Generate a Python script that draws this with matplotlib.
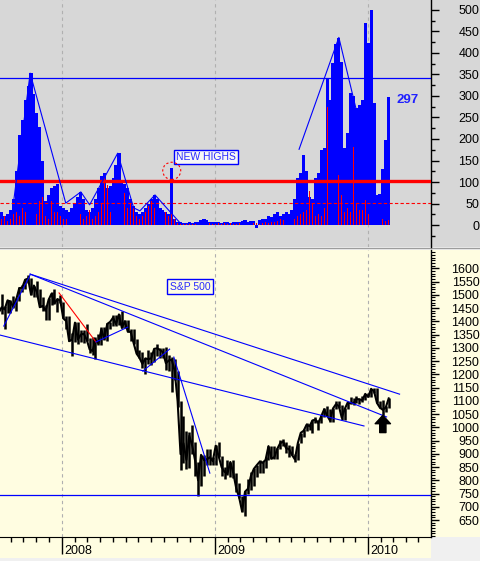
import matplotlib
matplotlib.use("Agg")
import matplotlib.pyplot as plt
import matplotlib.dates as mdates
from matplotlib.patches import Rectangle, Ellipse
from matplotlib.lines import Line2D
from matplotlib.ticker import FixedLocator, MultipleLocator
import pandas as pd

plt.rcParams["font.family"] = ["Liberation Sans", "DejaVu Sans"]

# ---- data (weekly, week ending Friday) ----
WEEKS = pd.date_range("2007-08-03", "2010-02-19", freq="W-FRI")

NH_BLUE = [
    128, 30, 20, 25, 35, 60, 125, 210, 245, 290, 322, 353, 305, 260, 228, 150, 55, 70, 85, 90, 95, 45,
    40, 35, 30, 40, 50, 65, 77, 60, 35, 30, 40, 60, 85, 115, 121, 85, 90, 110, 140, 167,
    100, 95, 85, 60, 45, 30, 25, 30, 40, 50, 60, 70, 60, 40, 35, 30, 25, 132, 15, 8,
    6, 5, 5, 6, 5, 6, 8, 12, 15, 12, 8, 6,
    6, 7, 5, 8, 6, 5, 7, 6, 8, 10, 12, 8, 10, 9, -7, 12, 14, 15, 20, 18, 25, 30, 20, 25, 30, 25,
    35, 60, 110, 120, 163, 125, 65, 60, 110, 120, 175, 180, 341, 290, 376, 420, 434, 380, 180, 213,
    306, 300, 271, 280, 290, 469,
    422, 500, 283, 70, 73, 130, 198, 297,
]
NH_RED = [
    75, 15, 20, 10, 15, 25, 30, 20, 40, 30, 25, 116, 40, 25, 55, 65, 20, 15, 55, 30, 30, 20,
    15, 15, 20, 10, 40, 20, 25, 15, 20, 35, 15, 20, 30, 50, 109, 93, 30, 65, 20, 15,
    30, 75, 40, 50, 42, 20, 15, 20, 30, 45, 55, 40, 30, 50, 45, 30, 20, 25, 15, 5,
    3, 3, 3, 3, 3, 3, 4, 5, 6, 5, 4, 3,
    3, 4, 3, 5, 3, 4, 3, 3, 4, 5, 3, 4, 8, 5, 4, 3, 5, 6, 4, 8, 6, 10, 15, 12, 25, 20,
    10, 15, 20, 25, 30, 35, 80, 50, 20, 25, 20, 40, 275, 40, 30, 60, 116, 70, 30, 40,
    30, 182, 50, 35, 35, 58,
    25, 30, 20, 57, 20, 15, 10, 12,
]

SP_HIGH = [
    1488, 1503, 1456, 1480, 1481, 1496, 1488, 1530, 1538, 1561, 1576, 1563, 1535, 1552, 1520, 1492,
    1460, 1488, 1510, 1523, 1485, 1498,
    1471, 1420, 1420, 1355, 1396, 1396, 1368, 1367, 1388, 1336, 1339, 1341, 1353, 1380, 1380, 1395,
    1398, 1422, 1422, 1426, 1440, 1406, 1404, 1370, 1370, 1333, 1290, 1285, 1263, 1292, 1284, 1297,
    1314, 1300, 1300, 1304, 1274, 1265, 1256, 1214, 1100, 1044, 985, 984, 1007, 943, 868, 896,
    896, 919, 918, 888,
    934, 943, 890, 851, 877, 870, 876, 827, 790, 741, 758, 804, 832, 845, 857, 875, 871, 888, 930,
    930, 930, 920, 951, 956, 946, 935, 931, 898, 942, 979, 993, 1018, 1013, 1027, 1040, 1029, 1048,
    1074, 1080, 1069, 1071, 1101, 1101, 1085, 1072, 1097, 1113, 1112, 1119, 1108, 1117, 1126,
    1128, 1145, 1150, 1150, 1100, 1104, 1080, 1112,
]
SP_LOW = [
    1432, 1429, 1370, 1430, 1432, 1450, 1439, 1477, 1510, 1523, 1546, 1500, 1490, 1492, 1453, 1438,
    1406, 1406, 1460, 1465, 1435, 1468,
    1411, 1370, 1325, 1270, 1322, 1316, 1320, 1318, 1326, 1282, 1272, 1256, 1312, 1312, 1330, 1324,
    1370, 1384, 1381, 1386, 1373, 1373, 1358, 1326, 1315, 1278, 1260, 1225, 1200, 1240, 1235, 1248,
    1270, 1261, 1263, 1217, 1212, 1133, 1179, 1077, 839, 865, 843, 845, 899, 818, 741, 780,
    815, 856, 857, 857,
    857, 888, 818, 804, 821, 812, 808, 754, 735, 680, 667, 747, 765, 780, 814, 826, 826, 845, 877,
    879, 880, 880, 918, 930, 903, 888, 896, 869, 875, 940, 965, 987, 990, 978, 1017, 991, 1017,
    1040, 1041, 1020, 1020, 1070, 1073, 1029, 1029, 1070, 1086, 1084, 1092, 1086, 1097, 1102,
    1115, 1115, 1130, 1090, 1071, 1044, 1056, 1074,
]
SP_CLOSE = [
    1433, 1453, 1445, 1479, 1474, 1454, 1484, 1525, 1527, 1557, 1561, 1501, 1535, 1510, 1453, 1458,
    1440, 1481, 1504, 1468, 1484, 1478,
    1411, 1401, 1325, 1331, 1395, 1331, 1350, 1353, 1331, 1294, 1288, 1330, 1316, 1370, 1333, 1390,
    1398, 1414, 1389, 1426, 1375, 1400, 1361, 1360, 1318, 1278, 1262, 1239, 1260, 1257, 1260, 1296,
    1298, 1292, 1283, 1242, 1252, 1255, 1213, 1099, 899, 940, 877, 968, 930, 873, 800, 896,
    876, 879, 887, 872,
    931, 890, 850, 832, 826, 869, 827, 770, 735, 683, 757, 768, 816, 843, 857, 870, 866, 877, 929,
    882, 887, 919, 940, 946, 921, 918, 896, 879, 940, 979, 987, 1010, 1004, 1026, 1029, 1016, 1042,
    1068, 1044, 1025, 1071, 1087, 1080, 1036, 1069, 1093, 1091, 1091, 1106, 1106, 1102, 1126,
    1115, 1145, 1136, 1092, 1074, 1066, 1075, 1109,
]

# trend lines drawn on the charts (date, value)
NH_ZIGZAG = [("2007-09-08", 58), ("2007-10-17", 353), ("2008-01-10", 51), ("2008-02-15", 77),
             ("2008-03-07", 47), ("2008-05-13", 167), ("2008-06-20", 40), ("2008-07-05", 33),
             ("2008-08-10", 70), ("2008-10-08", 6)]
NH_ZIGZAG_2009 = [("2009-07-20", 176), ("2009-10-23", 436), ("2009-12-05", 262)]
NH_UPPER = 341
NH_MID = 102
NH_LOW = 51

SP_LINES = [
    ([("2007-08-06", 1348), ("2009-12-22", 1005)], "#0000ff"),
    ([("2007-10-17", 1578), ("2010-03-17", 1125)], "#0000ff"),
    ([("2007-10-17", 1578), ("2010-02-14", 1039)], "#0000ff"),
    ([("2007-08-15", 1382), ("2007-10-17", 1575)], "#0000ff"),
    ([("2007-12-25", 1507), ("2008-03-22", 1322)], "#ff0000"),
    ([("2008-03-22", 1322), ("2008-06-06", 1378)], "#0000ff"),
    ([("2008-07-12", 1212), ("2008-09-14", 1295)], "#0000ff"),
    ([("2008-09-24", 1265), ("2008-12-19", 827)], "#0000ff"),
]
SP_SUPPORT = 744

YEARS = ["2008", "2009", "2010"]

TOP_BG = "#d7d7d7"
BOT_BG = "#fffde1"
BLUE = "#0000ff"
RED = "#ff0000"

W, H = 481, 561


def d(s):
    return mdates.date2num(pd.Timestamp(s))


def fy(py):
    return 1 - py / H


fig = plt.figure(figsize=(W / 100, H / 100), dpi=100)
fig.patch.set_facecolor("#f0f0f0")

# panel backgrounds (including the tick label strip on the right)
fig.add_artist(Rectangle((0, fy(247)), 1, 247 / H, transform=fig.transFigure,
                         color=TOP_BG, zorder=-2, lw=0))
fig.add_artist(Rectangle((0, fy(537)), 1, 287 / H, transform=fig.transFigure,
                         color=BOT_BG, zorder=-2, lw=0))
fig.add_artist(Rectangle((0, fy(558)), 431 / W, 21 / H, transform=fig.transFigure,
                         color=BOT_BG, zorder=-2, lw=0))
fig.add_artist(Line2D([0, 1], [fy(247.5)] * 2, transform=fig.transFigure,
                      color="#9c9c9c", lw=0.9, zorder=-1))

ax1 = fig.add_axes([0, fy(247), 431 / W, 247 / H])
ax2 = fig.add_axes([0, fy(537), 431 / W, 287 / H])
ax1.set_facecolor(TOP_BG)
ax2.set_facecolor(BOT_BG)

wk = mdates.date2num(WEEKS.to_pydatetime())
x0 = d("2008-01-01") - 148
x1 = d("2008-01-01") + 881

for ax in (ax1, ax2):
    ax.set_xlim(x0, x1)
    for y in YEARS:
        ax.axvline(d(y + "-01-01"), color="#b0b0b0", lw=0.8, ls=(0, (3, 3)), zorder=0.5)
    for s in ("left", "top"):
        ax.spines[s].set_visible(False)
    ax.spines["right"].set_linewidth(1.0)

# ---- top panel: new highs ----
ax1.bar(wk, NH_BLUE, width=7.4, color=BLUE, lw=0, zorder=2)
ax1.bar(wk, NH_RED, width=1.8, color=RED, lw=0, zorder=3)
ax1.axhline(NH_UPPER, color=BLUE, lw=0.9, zorder=4)
ax1.axhline(NH_MID, color=RED, lw=2.4, zorder=4)
ax1.axhline(NH_LOW, color=RED, lw=0.8, ls=(0, (3, 2)), zorder=4)
ax1.plot([d(a) for a, _ in NH_ZIGZAG], [v for _, v in NH_ZIGZAG], color=BLUE, lw=0.8, zorder=5)
ax1.plot([d(a) for a, _ in NH_ZIGZAG_2009], [v for _, v in NH_ZIGZAG_2009],
         color=BLUE, lw=0.8, zorder=5)

ax1.text(d("2008-12-09"), 158, "NEW HIGHS", color="#2a2aff", fontsize=7.5,
         ha="center", va="center", zorder=6,
         bbox=dict(boxstyle="square,pad=0.2", fc="#f6f6f6", ec=BLUE, lw=1.0))
ax1.add_patch(Ellipse((d("2008-09-19"), 126), 43, 40, fill=False, ec=RED,
                      lw=0.8, ls=(0, (2, 2)), zorder=6))
ax1.text(d("2010-03-10"), 291, "297", color="#2020ff", fontsize=9.5,
         fontweight="bold", ha="left", va="center", zorder=6)

ax1.set_ylim(-51, 523)
ax1.spines["bottom"].set_visible(False)
ax1.set_xticks([])
ax1.yaxis.tick_right()
ax1.yaxis.set_major_locator(FixedLocator(range(0, 501, 50)))
ax1.yaxis.set_minor_locator(FixedLocator(range(-25, 526, 50)))
ax1.tick_params(axis="y", which="major", length=6, width=1, labelsize=9, pad=28.8)
ax1.tick_params(axis="y", which="minor", length=3, width=1)
for t in ax1.yaxis.get_major_ticks():
    t.label2.set_horizontalalignment("right")

# ---- bottom panel: S&P 500 ----
ax2.vlines(wk, SP_LOW, SP_HIGH, color="black", lw=1.8, zorder=3)
ax2.plot(wk, SP_CLOSE, color="black", lw=1.5, zorder=3)
for pts, col in SP_LINES:
    ax2.plot([d(a) for a, _ in pts], [v for _, v in pts], color=col, lw=0.8, zorder=4)
ax2.axhline(SP_SUPPORT, color=BLUE, lw=0.9, zorder=4)

ax2.text(d("2008-11-02"), 1531, "S&P 500", color="#2a2aff", fontsize=7.5,
         ha="center", va="center", zorder=6,
         bbox=dict(boxstyle="square,pad=0.25", fc=BOT_BG, ec=BLUE, lw=1.0))
ax2.annotate("", xy=(d("2010-02-05"), 1045), xytext=(d("2010-02-05"), 980),
             arrowprops=dict(arrowstyle="simple,head_length=0.6,head_width=1.1,tail_width=0.45",
                             mutation_scale=10, color="black", shrinkA=0, shrinkB=0),
             zorder=6)

ax2.set_ylim(586, 1669)
ax2.yaxis.tick_right()
ax2.yaxis.set_major_locator(FixedLocator(range(650, 1601, 50)))
ax2.yaxis.set_minor_locator(MultipleLocator(10))
ax2.tick_params(axis="y", which="major", length=6, width=1, labelsize=9, pad=28.8)
ax2.tick_params(axis="y", which="minor", length=3, width=0.8)
for t in ax2.yaxis.get_major_ticks():
    t.label2.set_horizontalalignment("right")

ax2.xaxis.set_major_locator(FixedLocator([d(y + "-01-01") for y in YEARS]))
ax2.xaxis.set_minor_locator(mdates.MonthLocator())
ax2.tick_params(axis="x", which="major", length=12.5, width=1, labelbottom=False)
ax2.tick_params(axis="x", which="minor", length=3.6, width=1)
for y in YEARS:
    ax2.annotate(y, xy=(d(y + "-01-01"), 0), xycoords=("data", "axes fraction"),
                 xytext=(2, -8), textcoords="offset pixels", ha="left", va="top",
                 fontsize=9, annotation_clip=False)

fig.savefig("out.png", dpi=100, facecolor=fig.get_facecolor())
